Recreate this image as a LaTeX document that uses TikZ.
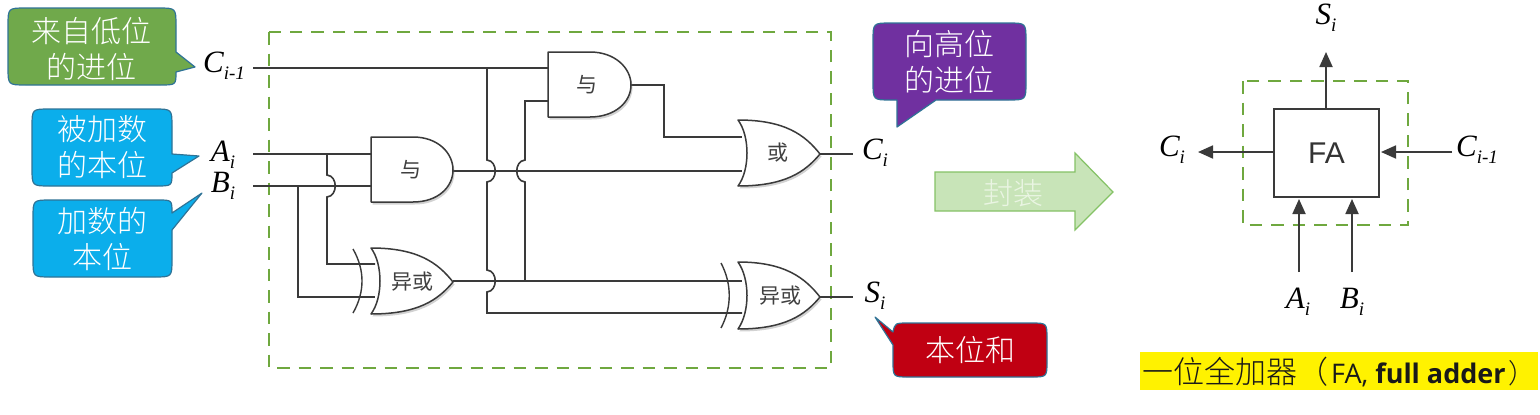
\documentclass[tikz,border=0pt]{standalone}
\usepackage{fontspec}
\setmainfont{Liberation Serif}
\newfontfamily\cjk{Noto Sans CJK SC Light}
\newfontfamily\cjkreg{Noto Sans CJK SC}
\newfontfamily\uisans{Open Sans}
\newfontfamily\arialish{Liberation Sans}
\usetikzlibrary{shadows,arrows.meta}
\definecolor{boxgreen}{HTML}{6FA83F}
\definecolor{calgreen}{HTML}{70A94B}
\definecolor{calblue}{HTML}{0BAEEB}
\definecolor{calpurple}{HTML}{7030A0}
\definecolor{calred}{HTML}{C00012}
\definecolor{caledge}{HTML}{2F7396}
\definecolor{wire}{HTML}{3A3A3A}
\definecolor{arrowfill}{HTML}{C8E4B8}
\definecolor{arrowedge}{HTML}{85C266}
\definecolor{arrowtext}{HTML}{EAF5E3}
\newcommand{\sym}[2]{{\fontsize{31}{31}\selectfont\itshape #1}{\fontsize{19}{19}\selectfont\itshape\raisebox{-7pt}{#2}}}
\tikzset{
  x=1pt,y=-1pt,
  dashbox/.style={draw=boxgreen,line width=2pt,dash pattern=on 12.5pt off 9pt},
  wireline/.style={draw=wire,line width=1.6pt},
  gateline/.style={draw=wire,line width=1.5pt,fill=white,line join=round,drop shadow={shadow xshift=1.5pt,shadow yshift=-2.5pt,opacity=.35,fill=gray}},
  gatearc/.style={draw=wire,line width=1.4pt},
  gatetext/.style={font=\cjkreg\fontsize{21}{21}\selectfont,text=black!75,inner sep=0pt},
  callout/.style={draw=caledge,line width=1.2pt,line join=round},
  caltext/.style={font=\cjk\fontsize{30}{36}\selectfont,text=white,align=center,inner sep=0pt},
  symlabel/.style={inner sep=0pt,text=black},
  faarrow/.style={draw=wire,line width=1.8pt,-{Triangle[length=15pt,width=13pt]}},
}
\begin{document}
\begin{tikzpicture}
\useasboundingbox (0,0) rectangle (1540,415);
\fill[white] (0,0) rectangle (1540,415);

% dashed frame
\draw[dashbox] (269,32) rectangle (831,368);

% named points of the circuit
\coordinate (cin) at (253,68);
\coordinate (ain) at (253,154);
\coordinate (bin) at (253,186);
\coordinate (cjun) at (487,68);
\coordinate (ajun) at (327,154);
\coordinate (bjun) at (298,186);
\coordinate (and1a) at (371,154);
\coordinate (and1b) at (371,186);
\coordinate (and1o) at (453,171);
\coordinate (and2a) at (548,68);
\coordinate (and2b) at (548,101);
\coordinate (and2o) at (631,85);
\coordinate (x1a) at (375,264);
\coordinate (x1b) at (375,297);
\coordinate (x1o) at (453,281);
\coordinate (x2a) at (742,281);
\coordinate (x2b) at (742,313);
\coordinate (x2o) at (819,297);
\coordinate (ora) at (742,137);
\coordinate (orb) at (742,171);
\coordinate (oro) at (820,154);
\coordinate (cout) at (853,154);
\coordinate (sout) at (853,297);
\coordinate (xjun) at (525,281);

% wires
\draw[wireline] (cin) -- (and2a);
\draw[wireline] (ain) -- (and1a);
\draw[wireline] (bin) -- (and1b);
\draw[wireline] (and1o) -- (orb);
\draw[wireline] (x1o) -- (x2a);
\draw[wireline] (and2o) -| (664,137) -- (ora);
\draw[wireline] (oro) -- (cout);
\draw[wireline] (x2o) -- (sout);
\draw[wireline] (ajun) -- (327,175) .. controls (338,176) and (338,196) .. (327,197) -- (327,264) -- (x1a);
\draw[wireline] (bjun) |- (x1b);
\draw[wireline] (cjun) -- (487,160) .. controls (498,161) and (498,181) .. (487,182)
  -- (487,270) .. controls (498,271) and (498,291) .. (487,292) -- (487,313) -- (x2b);
\draw[wireline] (xjun) -- (525,182) .. controls (514,181) and (514,161) .. (525,160) -- (525,101) -- (and2b);

% AND gates
\draw[gateline] (371,137) -- (413,137) .. controls (438,137) and (453,153) .. (453,170) .. controls (453,187) and (438,202) .. (413,202) -- (371,202) -- cycle;
\node[gatetext] (t1) at (411,170) {与};
\draw[gateline] (548,52) -- (590,52) .. controls (615,52) and (631,68) .. (631,85) .. controls (631,102) and (615,117) .. (590,117) -- (548,117) -- cycle;
\node[gatetext] (t2) at (587,85) {与};

% OR and XOR gates
\draw[gateline] (738,120) .. controls (785,120) and (805,135) .. (820,154) .. controls (805,172) and (785,186) .. (738,186) .. controls (750,170) and (750,136) .. (738,120) -- cycle;
\node[gatetext] (t3) at (778,153) {或};
\draw[gateline] (371,248) .. controls (418,248) and (438,263) .. (453,282) .. controls (438,300) and (418,314) .. (371,314) .. controls (383,298) and (383,264) .. (371,248) -- cycle;
\node[gatetext] (t4) at (412,282) {异或};
\draw[gatearc] (353,249) .. controls (365,270) and (365,292) .. (353,313);
\draw[gateline] (738,262) .. controls (785,262) and (805,278) .. (820,297) .. controls (805,315) and (785,329) .. (738,329) .. controls (750,312) and (750,279) .. (738,262) -- cycle;
\node[gatetext] (t5) at (780,296) {异或};
\draw[gatearc] (721,263) .. controls (732,284) and (732,307) .. (721,328);

% callouts
\draw[callout,fill=calgreen] (26,8) -- (158,8) .. controls (176,8) .. (176,26) -- (176,52) -- (195,67) -- (176,72) .. controls (176,85) .. (160,85) -- (26,85) .. controls (8,85) .. (8,67) -- (8,26) .. controls (8,8) .. (26,8) -- cycle;
\node[caltext] (cg) at (91,49) {来自低位\\的进位};
\draw[callout,fill=calblue] (50,109) -- (154,109) .. controls (172,109) .. (172,127) -- (172,154) -- (199,156) -- (172,173) .. controls (172,186) .. (156,186) -- (50,186) .. controls (32,186) .. (32,168) -- (32,127) .. controls (32,109) .. (50,109) -- cycle;
\node[caltext] (cb1) at (102,147) {被加数\\的本位};
\draw[callout,fill=calblue] (51,200) -- (158,200) .. controls (172,200) .. (172,213) -- (202,193) -- (172,230) -- (172,259) .. controls (172,277) .. (154,277) -- (51,277) .. controls (33,277) .. (33,259) -- (33,218) .. controls (33,200) .. (51,200) -- cycle;
\node[caltext] (cb2) at (102,239) {加数的\\本位};
\draw[callout,fill=calpurple] (891,23) -- (1008,23) .. controls (1026,23) .. (1026,41) -- (1026,82) .. controls (1026,100) .. (1008,100) -- (936,100) -- (897,127) -- (897,100) -- (891,100) .. controls (873,100) .. (873,82) -- (873,41) .. controls (873,23) .. (891,23) -- cycle;
\node[caltext] (cp) at (949,62) {向高位\\的进位};
\draw[callout,fill=calred] (909,323) -- (1031,323) .. controls (1047,323) .. (1047,339) -- (1047,361) .. controls (1047,377) .. (1031,377) -- (909,377) .. controls (893,377) .. (893,361) -- (893,345) -- (875,317) -- (893,332) .. controls (895,323) .. (909,323) -- cycle;
\node[caltext] (cr) at (970,350) {本位和};

% circuit labels
\node[symlabel] (lc) at (224,66) {\sym{C}{i-1}};
\node[symlabel] (la) at (223,155) {\sym{A}{i}};
\node[symlabel] (lb) at (223,186) {\sym{B}{i}};
\node[symlabel] (lco) at (875,153) {\sym{C}{i}};
\node[symlabel] (lso) at (875,296) {\sym{S}{i}};

% block arrow
\draw[draw=arrowedge,fill=arrowfill,line width=1.2pt] (935,172) -- (1075,172) -- (1075,153) -- (1113,192) -- (1075,230) -- (1075,211) -- (935,211) -- cycle;
\node[font=\cjk\fontsize{30}{30}\selectfont,text=arrowtext,inner sep=0pt] (wrap) at (1013,193) {封装};

% FA block
\draw[dashbox] (1243,81) rectangle (1408,225);
\node[draw=wire,line width=1.6pt,fill=none,minimum width=105pt,minimum height=88pt,inner sep=0pt,font=\arialish\fontsize{30}{30}\selectfont,text=black!80] (fa) at (1326.5,153) {FA};
\node[symlabel] (fs) at (1326,18) {\sym{S}{i}};
\node[symlabel] (fc) at (1172,150) {\sym{C}{i}};
\node[symlabel] (fci) at (1477,150) {\sym{C}{i-1}};
\node[symlabel] (fa1) at (1298,302) {\sym{A}{i}};
\node[symlabel] (fb1) at (1352,302) {\sym{B}{i}};
\coordinate (sTip) at (1326,52);
\coordinate (cTip) at (1198,152);
\coordinate (ciTail) at (1452,152);
\coordinate (ciTip) at (1381,152);
\coordinate (aTail) at (1299,272);
\coordinate (aTip) at (1299,199);
\coordinate (bTail) at (1352,272);
\coordinate (bTip) at (1352,199);
\draw[faarrow] (fa.north -| sTip) -- (sTip);
\draw[faarrow] (fa.west |- cTip) -- (cTip);
\draw[faarrow] (ciTail) -- (ciTip);
\draw[faarrow] (aTail) -- (aTip);
\draw[faarrow] (bTail) -- (bTip);

% caption
\node[fill=yellow,minimum width=398pt,minimum height=38pt,inner sep=0pt] (cap) at (1339,371) {};
\node[anchor=west,inner sep=0pt,text=black!90] (captxt) at (1142,372) {{\cjk\fontsize{31}{31}\selectfont 一位全加器（}\hspace{3pt}{\uisans\fontsize{27}{27}\selectfont FA, \bfseries full adder}\hspace{3pt}{\cjk\fontsize{27}{27}\selectfont ）}};
\end{tikzpicture}
\end{document}
